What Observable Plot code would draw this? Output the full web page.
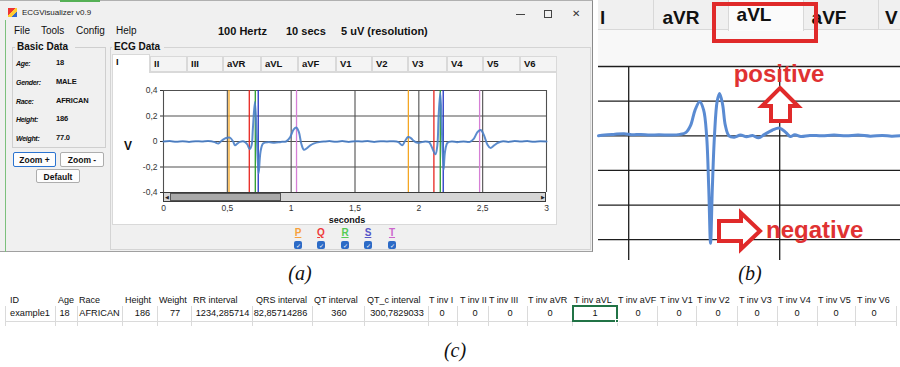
<!DOCTYPE html>
<html><head><meta charset="utf-8">
<script src="https://cdn.jsdelivr.net/npm/d3@7"></script>
<script src="https://cdn.jsdelivr.net/npm/@observablehq/plot@0.6"></script>
<style>
body{margin:0;background:#fff;}
#root{position:relative;width:900px;height:367px;overflow:hidden;font-family:"Liberation Sans",Arial,sans-serif;background:#fff;}
.abs{position:absolute;white-space:nowrap;box-sizing:border-box;}
.t{position:absolute;white-space:nowrap;line-height:1;}
</style></head><body><div id="root"></div>
<script>
// ---------------- DATA ----------------
const ecgTime  = [0,0.05,0.10,0.15,0.20,0.25,0.30,0.35,0.40,0.43,0.46,0.49,0.52,0.545,0.56,0.58,0.60,0.63,0.655,0.675,0.69,0.70,0.716,0.73,0.745,0.76,0.78,0.82,0.87,0.92,0.96,0.99,1.02,1.04,1.06,1.08,1.10,1.12,1.15,1.18,1.22,1.26,1.30,1.35,1.40,1.45,1.50,1.55,1.60,1.65,1.70,1.75,1.80,1.84,1.87,1.89,1.915,1.94,1.96,1.99,2.01,2.05,2.08,2.10,2.13,2.145,2.155,2.168,2.18,2.194,2.205,2.225,2.26,2.30,2.35,2.40,2.43,2.46,2.485,2.51,2.535,2.56,2.59,2.62,2.66,2.70,2.75,2.80,2.85,2.90,2.95,3.00];
const ecgValue = [0,0.003,-0.002,0.002,-0.003,0.002,0,0.003,-0.005,-0.015,0.010,0.028,0.030,0.000,-0.030,-0.015,-0.003,0,-0.020,-0.060,-0.030,0.100,0.310,0.050,-0.250,-0.080,-0.015,-0.005,-0.010,-0.003,0,0.030,0.095,0.110,0.075,-0.020,-0.065,-0.055,-0.030,-0.015,-0.005,0,0.003,-0.002,0.003,-0.003,0.002,0,0.003,-0.003,0.002,0,0.002,-0.005,-0.030,0.000,0.035,0.025,0.005,-0.010,-0.008,0,-0.005,-0.040,-0.100,-0.030,0.200,0.380,0.100,-0.220,-0.080,-0.010,0,-0.005,0,-0.003,0.020,0.075,0.090,0.050,-0.020,-0.050,-0.030,-0.010,0.002,-0.003,0.003,0,0.003,-0.002,0.002,0];
const markerTime = [0.513,0.672,0.719,0.742,1.042,1.918,2.118,2.168,2.191,2.476];
const markerWave = ["P","Q","R","S","T","P","Q","R","S","T"];
const waveNames  = ["P","Q","R","S","T"];
const waveColors = ["#f5a623","#e8261f","#2a9d2a","#2233c4","#d67fd6"];
const legendColors = ["#f7a03c","#ee3a3a","#55cc55","#5555c8","#cc66cc"];
const xTicksA = [0,0.5,1,1.5,2,2.5,3];
const yTicksA = [-0.4,-0.2,0,0.2,0.4];
const leadTabs = ["I","II","III","aVR","aVL","aVF","V1","V2","V3","V4","V5","V6"];
const patientLabels = ["Age:","Gender:","Race:","Height:","Weight:"];
const patientValues = ["18","MALE","AFRICAN","186","77.0"];
const menuItems = ["File","Tools","Config","Help"];
const headerInfo = ["100 Hertz","10 secs","5 uV (resolution)"];

const zoomTime  = [0.900,0.920,0.950,0.985,1.010,1.040,1.070,1.100,1.140,1.170,1.190,1.205,1.220,1.235,1.248,1.258,1.265,1.271,1.277,1.284,1.293,1.301,1.311,1.320,1.332,1.350,1.370,1.390,1.410,1.430,1.450,1.475,1.500,1.520,1.535,1.550,1.570,1.600,1.640,1.680,1.720,1.760,1.800,1.840,1.870,1.900];
const zoomValue = [0,0.002,0.004,0.006,0.003,0.004,0.002,0.003,0.002,0.004,0.010,0.030,0.075,0.098,0.075,0.000,-0.150,-0.310,-0.150,0.000,0.100,0.122,0.090,0.030,0.000,-0.004,0.002,-0.003,0.001,-0.006,0.004,0.016,0.022,0.010,-0.002,0.003,-0.002,0.001,0,0.002,0,0.002,-0.001,0.001,-0.001,0];
const zoomGridX = [1.0,1.5];
const zoomGridY = [0.2,0.1,0,-0.1,-0.2,-0.3];
const zoomTabs = ["l","aVR","aVL","aVF","V"];

const tableHeaders = ["ID","Age","Race","Height","Weight","RR interval","QRS interval","QT interval","QT_c interval","T inv I","T inv II","T inv III","T inv aVR","T inv aVL","T inv aVF","T inv V1","T inv V2","T inv V3","T inv V4","T inv V5","T inv V6"];
const tableRow = ["example1","18","AFRICAN","186","77","1234,285714","82,85714286","360","300,7829033","0","0","0","0","1","0","0","0","0","0","0","0"];

// ---------------- LAYOUT HELPERS ----------------
const root = document.getElementById("root");
function box(x,y,w,h,style={},parent=root){const d=document.createElement("div");d.className="abs";Object.assign(d.style,{left:x+"px",top:y+"px",width:w+"px",height:h+"px"},style);parent.appendChild(d);return d;}
function txt(x,y,s,o={},parent=root){const d=document.createElement("div");d.className="t";d.textContent=s;
  const a=o.anchor||"start";const tx=a==="middle"?"-50%":a==="end"?"-100%":"0";
  Object.assign(d.style,{left:x+"px",top:y+"px",fontSize:(o.size||10)+"px",fontWeight:o.weight||"normal",fontStyle:o.style||"normal",color:o.color||"#111",fontFamily:o.family||"'Liberation Sans',Arial,sans-serif",transform:`translate(${tx},-50%)`},o.css||{});
  parent.appendChild(d);return d;}

// ---------------- PANEL (a) WINDOW ----------------
box(0,0,593,252,{background:"#f0f0f0",borderRight:"1px solid #8a8a8a",borderTop:"1px solid #b0b0b0",borderBottom:"1px solid #a0a0a0"});
box(60,0,40,2,{background:"#55b055"});
box(5,20,1,232,{background:"#7cc07c"});
// title bar
box(8,8,9,9,{background:"linear-gradient(135deg,#e33 0 40%,#fc3 40% 70%,#36c 70%)"});
txt(22,13,"ECGVisualizer v0.9",{size:8,color:"#222"});
box(516,14,9,1,{background:"#444"});
box(544,10,8,8,{border:"1px solid #444"});
txt(576,14,"✕",{size:10,anchor:"middle",color:"#333"});
// menu
const menuX=[14,41,76,116];
menuItems.forEach((m,i)=>txt(menuX[i],31,m,{size:10,color:"#111"}));
const infoX=[218,286,341];
headerInfo.forEach((m,i)=>txt(infoX[i],31,m,{size:11,weight:"bold"}));

// Basic data group
box(12,47,94,101,{border:"1px solid #cfcfcf"});
box(15,42,60,10,{background:"#f0f0f0"});
txt(17,47,"Basic Data",{size:10,weight:"bold"});
const rowY=[63,82,101,119,138];
patientLabels.forEach((l,i)=>{txt(16,rowY[i],l,{size:7,weight:"bold",style:"italic",css:{letterSpacing:"-0.3px"}});txt(56,rowY[i],patientValues[i],{size:7.5,weight:"bold",css:{letterSpacing:"-0.2px"}});});
// buttons
const btn=(x,y,w,h,s,focus)=>{box(x,y,w,h,{background:"#fdfdfd",border:focus?"1px solid #2a73d0":"1px solid #adadad",borderRadius:"2px"});txt(x+w/2,y+h/2+0.5,s,{size:8.5,weight:"bold",anchor:"middle"});};
btn(13,152,43,15,"Zoom +",true);
btn(60,152,44,15,"Zoom -",false);
btn(36,169,44,14,"Default",false);

// ECG Data group
box(110,47,481,203,{border:"1px solid #d4d4d4"});
box(112,42,52,10,{background:"#f0f0f0"});
txt(114,47,"ECG Data",{size:10,weight:"bold"});
// tabs
const tabX=[112,150,187,223,261,298,336,372,408,447,483,520,557];
box(112,72,445,153,{background:"#ffffff",border:"1px solid #d9d9d9"});
leadTabs.forEach((t,i)=>{
  const sel=i===0;
  box(tabX[i],sel?54:56,tabX[i+1]-tabX[i],sel?19:16,{background:sel?"#ffffff":"#f4f4f4",border:"1px solid #d9d9d9",borderBottom:sel?"none":"1px solid #d9d9d9"});
  txt(tabX[i]+4,sel?62:64,t,{size:9.5,weight:"bold"});
});
txt(124,146,"V",{size:12,weight:"bold"});

// ECG plot
const comma=d=>String(d).replace(".",",");
const ecgData=ecgTime.map((t,i)=>({t,v:ecgValue[i]}));
const markers=markerTime.map((t,i)=>({t,wave:markerWave[i]}));
const plotA=Plot.plot({
  width:430,height:150,marginLeft:33,marginRight:14,marginTop:10,marginBottom:38,
  style:{background:"transparent",fontFamily:"'Liberation Sans',Arial,sans-serif",fontSize:"8.5px",color:"#333",overflow:"visible"},
  x:{domain:[0,3],ticks:xTicksA,tickFormat:comma,tickSize:0,tickPadding:12,label:null},
  y:{domain:[-0.4,0.4],ticks:yTicksA,tickFormat:comma,tickSize:3,tickPadding:3,label:null},
  color:{domain:waveNames,range:waveColors},
  marks:[
    Plot.ruleX(xTicksA,{stroke:"#505050",strokeWidth:1.1}),
    Plot.ruleY(yTicksA,{stroke:"#505050",strokeWidth:1.1}),
    Plot.ruleX(markers,{x:"t",stroke:"wave",strokeWidth:1.3}),
    Plot.line(ecgData,{x:"t",y:"v",stroke:"#4a7fc8",strokeWidth:2,curve:"catmull-rom",strokeOpacity:0.9})
  ]
});
const wa=box(130,80,430,150,{});wa.appendChild(plotA);
// scrollbar
box(163,192,383,10,{background:"#d6d6d6",border:"1px solid #3a3a3a"});
box(170,193,111,8,{background:"#a9a9a9",border:"1px solid #555"});
txt(166.5,197,"◀",{size:5,anchor:"middle",color:"#222"});
txt(542.5,197,"▶",{size:5,anchor:"middle",color:"#222"});
txt(347,220,"seconds",{size:9,weight:"bold",anchor:"middle"});
// legend
const legX=[298,321,345,368,392];
waveNames.forEach((w,i)=>{
  txt(legX[i],233,w,{size:10,weight:"bold",anchor:"middle",color:legendColors[i],css:{textDecoration:"underline"}});
  box(legX[i]-4,241,8,8,{background:"#2d6bc6",borderRadius:"2px"});
  txt(legX[i],245.5,"✓",{size:6,anchor:"middle",color:"#fff"});
});

// ---------------- PANEL (b) ----------------
box(598,0,302,30,{background:"#f0f0f0",borderBottom:"1px solid #d8d8d8"});
box(598,30,302,36,{background:"#f8f8f8"});
[653,878].forEach(x=>box(x,0,1,30,{background:"#d8d8d8"}));
box(728,0,76,31,{background:"#fbfbfb",borderLeft:"1px solid #d8d8d8",borderRight:"1px solid #d8d8d8"});
const zoomTabX=[600,681,754,829,885];
zoomTabs.forEach((t,i)=>txt(zoomTabX[i],i===2?14:17,t,{size:19,weight:"bold",anchor:i===0||i===4?"start":"middle",color:"#111"}));
box(712,2,106,41,{border:"4.5px solid #e02a2a"});
const zoomData=zoomTime.map((t,i)=>({t,v:zoomValue[i]}));
const plotB=Plot.plot({
  width:302,height:195,marginTop:1,marginBottom:0,marginLeft:0,marginRight:0,
  style:{background:"#ffffff",overflow:"visible"},
  x:{domain:[0.9,1.9],axis:null},y:{domain:[-0.36,0.2],axis:null},
  marks:[
    Plot.ruleY(zoomGridY,{stroke:"#1e1e1e",strokeWidth:1.3}),
    Plot.ruleX(zoomGridX,{stroke:"#1e1e1e",strokeWidth:1.3}),
    Plot.line(zoomData,{x:"t",y:"v",stroke:"#5a8bd2",strokeWidth:3,curve:"catmull-rom"})
  ]
});
const wb=box(598,65,302,195,{});wb.appendChild(plotB);
// annotations
txt(779,74,"positive",{size:24,weight:"bold",anchor:"middle",color:"#e03232"});
txt(766,230,"negative",{size:24,weight:"bold",color:"#e03232"});
const ns="http://www.w3.org/2000/svg";
const ov=document.createElementNS(ns,"svg");ov.setAttribute("width",900);ov.setAttribute("height",367);
ov.style.cssText="position:absolute;left:0;top:0;pointer-events:none";
[["780,88 798,106 790,106 790,121 771,121 771,106 762,106"],["719,221 741,221 741,213 760,231 741,249 741,241 719,241"]].forEach(p=>{
  const pg=document.createElementNS(ns,"polygon");pg.setAttribute("points",p[0]);pg.setAttribute("fill","#fff");pg.setAttribute("stroke","#e02a2a");pg.setAttribute("stroke-width","4");pg.setAttribute("stroke-linejoin","miter");ov.appendChild(pg);});
root.appendChild(ov);

// ---------------- LABELS ----------------
const lab={family:"'Liberation Serif','Times New Roman',serif",size:20,style:"italic",anchor:"middle",color:"#111"};
txt(300,273,"(a)",lab);
txt(750,273,"(b)",lab);
txt(455,350,"(c)",lab);

// ---------------- TABLE (c) ----------------
const colB=[5,55,77,122,157,191,252,312,364,428,457,488,527,572,617,657,696,737,777,817,855,896];
const headerX=[10,58,79,125,159,193,256,314,367,429,460,489,528,574,618,660,697,739,778,818,857];
const valueCX=[30,64.5,99.5,142.5,175,222.5,280.5,339,397,442,475,510,550,595,638,679,718,757,797,836,874];
colB.forEach(x=>box(x,306,1,20,{background:"#dadada"}));
box(5,321,891,1,{background:"#dadada"});
tableHeaders.forEach((h,i)=>txt(headerX[i],300,h,{size:9,color:"#111"}));
tableRow.forEach((v,i)=>txt(valueCX[i],313.5,v,{size:9.2,anchor:"middle",color:"#111"}));
box(572,305,46,17,{border:"2px solid #217346"});
box(615,319,4,4,{background:"#217346",border:"1px solid #fff"});
</script></body></html>
